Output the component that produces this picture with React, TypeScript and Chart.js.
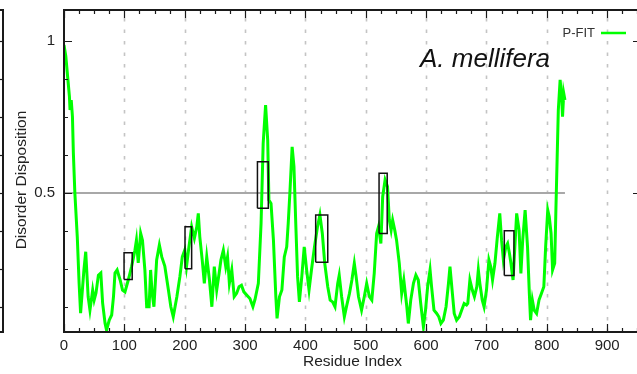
import { useEffect, useRef } from 'react';
import { Chart, registerables } from 'chart.js';

Chart.register(...registerables);

// ---- data ----
const residues = [
  0, 3, 5.5, 9, 10, 12, 14, 15.5, 18, 22, 25, 27.5, 33, 36, 40, 43, 47.5, 50, 53, 57,
  61, 64, 68, 70.5, 75, 79, 82, 84.5, 88, 93, 97, 101, 106.5, 112, 117.5, 120, 123, 127, 130, 134,
  137, 141, 143.5, 146, 149, 153.5, 158, 162, 167, 173, 177, 181, 187, 192, 196, 200, 203, 207, 211.5, 216,
  220, 222.5, 225, 229, 232.5, 236.5, 241, 245, 249, 253, 257, 260, 264, 268, 271, 274, 278, 282, 286, 290,
  294, 298, 303, 308, 313, 316.5, 322, 326.5, 330, 334, 337.5, 339.5, 343, 347, 351, 353, 357, 361, 365, 369,
  371.5, 374.5, 378, 381, 384, 387, 390, 394, 398, 402, 406, 410, 415, 420, 424, 428, 432, 437, 441, 445,
  449, 453.5, 456, 460, 464.5, 468, 473, 477, 481, 484, 488, 493, 497.5, 501.5, 506, 510, 514, 518, 521, 525,
  528, 532, 536, 539, 542, 544.5, 548, 551, 555.5, 559.5, 563, 568, 570.5, 574.5, 579, 583, 587, 591, 595.5, 599,
  602.5, 606.5, 609, 613, 617.5, 621, 624.5, 628.5, 633, 637, 639.5, 643.5, 646.5, 650.5, 655, 659, 663, 667, 669, 672.5,
  676.5, 680, 684, 686.5, 689, 693, 696, 700, 704, 707, 710, 714, 718, 722, 725, 728, 732, 735, 738, 740.5,
  744, 747, 750, 754, 757, 760, 764, 768, 771, 773, 776, 779, 783, 787, 791, 795, 798, 801.5, 804, 807,
  809.5, 813, 815, 817, 819, 822, 824.5, 826, 828, 830,
];
const disorder = [
  0.987, 0.95, 0.894, 0.817, 0.773, 0.806, 0.751, 0.632, 0.5, 0.356, 0.204, 0.105, 0.247, 0.307, 0.159, 0.115, 0.181, 0.148, 0.171, 0.23,
  0.237, 0.138, 0.072, 0.049, 0.082, 0.099, 0.159, 0.237, 0.247, 0.214, 0.181, 0.175, 0.214, 0.258, 0.312, 0.345, 0.27, 0.368, 0.345, 0.247,
  0.126, 0.126, 0.247, 0.171, 0.126, 0.28, 0.329, 0.29, 0.26, 0.181, 0.126, 0.093, 0.159, 0.225, 0.29, 0.312, 0.258, 0.323, 0.389, 0.351,
  0.389, 0.433, 0.356, 0.28, 0.203, 0.29, 0.214, 0.126, 0.258, 0.181, 0.236, 0.28, 0.312, 0.258, 0.29, 0.203, 0.247, 0.159, 0.17, 0.192,
  0.197, 0.175, 0.164, 0.153, 0.126, 0.15, 0.203, 0.4, 0.663, 0.789, 0.674, 0.477, 0.466, 0.345, 0.159, 0.088, 0.159, 0.181, 0.29, 0.323,
  0.4, 0.51, 0.652, 0.587, 0.4, 0.225, 0.142, 0.225, 0.323, 0.247, 0.181, 0.247, 0.323, 0.389, 0.428, 0.367, 0.269, 0.192, 0.148, 0.142,
  0.126, 0.203, 0.23, 0.159, 0.093, 0.126, 0.17, 0.214, 0.269, 0.225, 0.159, 0.115, 0.159, 0.203, 0.159, 0.148, 0.236, 0.367, 0.389, 0.334,
  0.488, 0.543, 0.521, 0.411, 0.378, 0.411, 0.378, 0.345, 0.269, 0.17, 0.214, 0.126, 0.071, 0.148, 0.203, 0.23, 0.214, 0.137, 0.06, 0.115,
  0.192, 0.247, 0.192, 0.115, 0.104, 0.093, 0.071, 0.082, 0.126, 0.203, 0.258, 0.17, 0.104, 0.082, 0.093, 0.115, 0.137, 0.132, 0.137, 0.214,
  0.181, 0.159, 0.192, 0.247, 0.203, 0.148, 0.126, 0.181, 0.28, 0.258, 0.214, 0.269, 0.356, 0.433, 0.345, 0.28, 0.323, 0.334, 0.302, 0.269,
  0.214, 0.323, 0.433, 0.378, 0.236, 0.345, 0.444, 0.323, 0.17, 0.082, 0.148, 0.115, 0.104, 0.148, 0.17, 0.192, 0.323, 0.444, 0.422, 0.367,
  0.247, 0.269, 0.444, 0.609, 0.773, 0.872, 0.817, 0.751, 0.828, 0.806,
];

const thresholdX = [0, 830];
const thresholdY = [0.5, 0.5];

// highlighted regions (boxes)
const boxX1 = [99.5, 200.5, 320.5, 417, 522, 729.5];
const boxX2 = [113, 211.5, 338.5, 437, 535.5, 745.5];
const boxY1 = [0.216, 0.251, 0.45, 0.272, 0.367, 0.229];
const boxY2 = [0.304, 0.389, 0.603, 0.428, 0.565, 0.376];

const xMin = 0;
const xMax = 956;
const yMin = 0.043;
const yMax = 1.102;

const xTicks = [0, 25, 50, 75, 100, 125, 150, 175, 200, 225, 250, 275, 300, 325, 350, 375, 400, 425, 450, 475,
  500, 525, 550, 575, 600, 625, 650, 675, 700, 725, 750, 775, 800, 825, 850, 875, 900, 925, 950];
const xLabelled = [0, 100, 200, 300, 400, 500, 600, 700, 800, 900];
const yTicks = [0.125, 0.25, 0.375, 0.5, 0.625, 0.75, 0.875, 1];
const yLabelled = [0.5, 1];
const yLabelText = ['0.5', '1'];

const seriesName = 'P-FIT';
const chartTitle = 'A. mellifera';
const xTitle = 'Residue Index';
const yTitle = 'Disorder Disposition';

const FONT = '"Liberation Sans", Arial, Helvetica, sans-serif';

const decoPlugin = {
  id: 'deco',
  beforeDatasetsDraw(chart: any) {
    const { ctx, chartArea, scales } = chart;
    const { top, bottom } = chartArea;
    ctx.save();
    ctx.strokeStyle = '#c4c4c4';
    ctx.lineWidth = 1.6;
    ctx.setLineDash([3.5, 8]);
    xLabelled.forEach((v) => {
      if (v === 0) return;
      const px = Math.round(scales.x.getPixelForValue(v)) + 0.5;
      ctx.beginPath();
      ctx.moveTo(px, bottom);
      ctx.lineTo(px, top);
      ctx.stroke();
    });
    ctx.restore();
  },
  afterDraw(chart: any) {
    const { ctx, chartArea, scales } = chart;
    const { left, right, top, bottom } = chartArea;
    ctx.save();
    ctx.strokeStyle = '#1a1a1a';
    ctx.lineWidth = 1.2;
    // x ticks (inward, bottom and top)
    xTicks.forEach((v) => {
      const px = Math.round(scales.x.getPixelForValue(v)) + 0.5;
      const len = v % 100 === 0 ? 8 : 4;
      ctx.beginPath();
      ctx.moveTo(px, bottom);
      ctx.lineTo(px, bottom - len);
      ctx.moveTo(px, top);
      ctx.lineTo(px, top + len);
      ctx.stroke();
    });
    // y ticks (inward, left and right)
    yTicks.forEach((v) => {
      const py = Math.round(scales.y.getPixelForValue(v)) + 0.5;
      const len = yLabelled.includes(v) ? 8 : 4;
      ctx.beginPath();
      ctx.moveTo(left, py);
      ctx.lineTo(left + len, py);
      ctx.moveTo(right, py);
      ctx.lineTo(right - len, py);
      ctx.stroke();
      // neighbouring panel's right axis at the far left
      ctx.beginPath();
      ctx.moveTo(3, py);
      ctx.lineTo(3 - len, py);
      ctx.stroke();
    });
    // frame
    ctx.lineWidth = 2;
    ctx.strokeRect(left, top, right - left, bottom - top);
    // neighbouring panel frame edge
    ctx.beginPath();
    ctx.moveTo(-5, top);
    ctx.lineTo(3, top);
    ctx.lineTo(3, bottom);
    ctx.lineTo(-5, bottom);
    ctx.stroke();

    // y axis title
    ctx.save();
    ctx.translate(22, (top + bottom) / 2 + 9);
    ctx.rotate(-Math.PI / 2);
    ctx.font = `15.5px ${FONT}`;
    ctx.fillStyle = '#222';
    ctx.textAlign = 'center';
    ctx.textBaseline = 'middle';
    ctx.fillText(yTitle, 0, 0);
    ctx.restore();

    // legend: text then line sample
    ctx.font = `13px ${FONT}`;
    ctx.fillStyle = '#333';
    ctx.textAlign = 'right';
    ctx.textBaseline = 'middle';
    ctx.fillText(seriesName, right - 46, top + 23);
    ctx.strokeStyle = '#00ff00';
    ctx.lineWidth = 2.5;
    ctx.beginPath();
    ctx.moveTo(right - 40, top + 23);
    ctx.lineTo(right - 15, top + 23);
    ctx.stroke();

    // panel title
    ctx.font = `italic 26px ${FONT}`;
    ctx.fillStyle = '#111';
    ctx.textAlign = 'left';
    ctx.textBaseline = 'alphabetic';
    ctx.fillText(chartTitle, left + 356, top + 57);
    ctx.restore();
  },
};

export default function App() {
  const canvasRef = useRef<HTMLCanvasElement | null>(null);

  useEffect(() => {
    if (!canvasRef.current) return;
    const lineData = residues.map((x, i) => ({ x, y: disorder[i] }));
    const thrData = thresholdX.map((x, i) => ({ x, y: thresholdY[i] }));
    const boxSets = boxX1.map((x1, i) => ({
      label: 'box' + i,
      data: [
        { x: x1, y: boxY1[i] },
        { x: boxX2[i], y: boxY1[i] },
        { x: boxX2[i], y: boxY2[i] },
        { x: x1, y: boxY2[i] },
        { x: x1, y: boxY1[i] },
      ],
      borderColor: '#111111',
      borderWidth: 1.5,
      pointRadius: 0,
      fill: false,
      tension: 0,
      order: 1,
    }));

    const chart = new Chart(canvasRef.current, {
      type: 'line',
      data: {
        datasets: [
          {
            label: seriesName,
            data: lineData,
            borderColor: '#00ff00',
            borderWidth: 3,
            pointRadius: 0,
            fill: false,
            tension: 0,
            order: 2,
          },
          {
            label: 'threshold',
            data: thrData,
            borderColor: '#a8a8a8',
            borderWidth: 2,
            pointRadius: 0,
            fill: false,
            order: 3,
          },
          ...boxSets,
        ],
      },
      options: {
        animation: false,
        responsive: true,
        maintainAspectRatio: false,
        layout: { padding: { top: 10, right: 4, bottom: 0, left: 0 } },
        plugins: { legend: { display: false }, tooltip: { enabled: false } },
        scales: {
          x: {
            type: 'linear',
            min: xMin,
            max: xMax,
            afterBuildTicks: (s: any) => {
              s.ticks = xTicks.map((v) => ({ value: v }));
            },
            afterFit: (s: any) => {
              s.height = 42;
              s.paddingLeft = 0;
              s.paddingRight = 0;
            },
            grid: { display: false, drawTicks: false },
            border: { display: false },
            ticks: {
              autoSkip: false,
              maxRotation: 0,
              padding: 5,
              color: '#222',
              font: { family: FONT, size: 15 },
              callback: (v: any) => (xLabelled.includes(Number(v)) ? String(v) : ''),
            },
            title: {
              display: true,
              text: xTitle,
              color: '#222',
              font: { family: FONT, size: 15.5 },
              padding: { top: 0, bottom: 2.7 },
            },
          },
          y: {
            type: 'linear',
            min: yMin,
            max: yMax,
            afterBuildTicks: (s: any) => {
              s.ticks = yTicks.map((v) => ({ value: v }));
            },
            afterFit: (s: any) => {
              s.width = 64;
              s.paddingTop = 0;
              s.paddingBottom = 0;
            },
            grid: { display: false, drawTicks: false },
            border: { display: false },
            ticks: {
              autoSkip: false,
              padding: 9,
              color: '#222',
              font: { family: FONT, size: 15 },
              callback: (v: any) => {
                const k = yLabelled.indexOf(Number(v));
                return k >= 0 ? yLabelText[k] : '';
              },
            },
            title: { display: false },
          },
        },
      },
      plugins: [decoPlugin],
    } as any);
    return () => chart.destroy();
  }, []);

  return (
    <div style={{ position: 'fixed', left: 0, top: 0, width: 637, height: 374, overflow: 'hidden', background: '#fff' }}>
      <div style={{ position: 'relative', width: 645, height: 374 }}>
        <canvas ref={canvasRef} />
      </div>
    </div>
  );
}
